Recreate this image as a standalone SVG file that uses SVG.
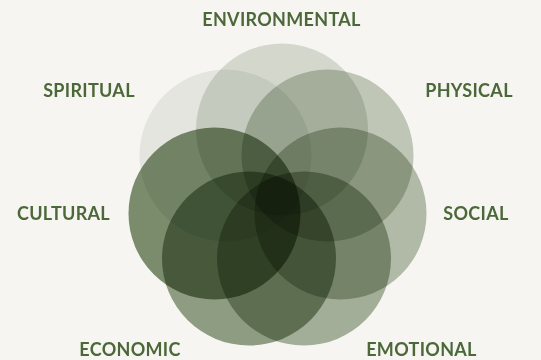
<svg xmlns="http://www.w3.org/2000/svg" width="541" height="360" viewBox="0 0 541 360">
<style>
.c{mix-blend-mode:multiply}
.t{font-family:Lato,"Open Sans","Liberation Sans",sans-serif;font-weight:bold;font-size:18px;letter-spacing:0.3px;fill:#4c6839;text-anchor:middle}
</style>
<rect width="541" height="360" fill="#f6f5f1"/>
<g id="circles">
<g id="spiritual-circle"><circle class="c" cx="225.5" cy="155.5" r="86" fill="#edefec"/></g>
<g id="environmental-circle"><circle class="c" cx="282" cy="129.5" r="86" fill="#dce1d8"/></g>
<g id="physical-circle"><circle class="c" cx="327.5" cy="155.5" r="86" fill="#c6cec1"/></g>
<g id="social-circle"><circle class="c" cx="340.5" cy="213.5" r="86" fill="#b8c2b1"/></g>
<g id="emotional-circle"><circle class="c" cx="304" cy="258.5" r="87" fill="#a8b5a0"/></g>
<g id="economic-circle"><circle class="c" cx="249" cy="258.5" r="87" fill="#93a288"/></g>
<g id="cultural-circle"><circle class="c" cx="214.5" cy="213.5" r="86" fill="#7f9273"/></g>
</g>
<g id="labels">
<g id="environmental"><text class="t" x="281.5" y="25.5">ENVIRONMENTAL</text></g>
<g id="spiritual"><text class="t" x="89" y="96.5">SPIRITUAL</text></g>
<g id="physical"><text class="t" x="469" y="96.5">PHYSICAL</text></g>
<g id="cultural"><text class="t" x="63.5" y="220">CULTURAL</text></g>
<g id="social"><text class="t" x="476" y="220">SOCIAL</text></g>
<g id="economic"><text class="t" x="130" y="356">ECONOMIC</text></g>
<g id="emotional"><text class="t" x="421.5" y="356">EMOTIONAL</text></g>
</g>
</svg>
